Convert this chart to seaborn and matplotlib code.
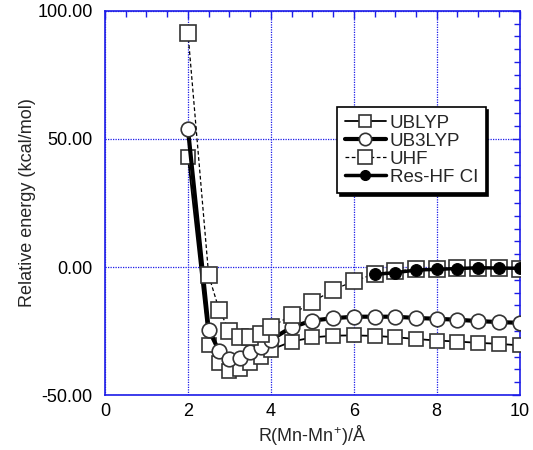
import matplotlib
matplotlib.use("Agg")
import matplotlib.pyplot as plt
import seaborn as sns
import pandas as pd
from matplotlib.ticker import MultipleLocator

# ---- data ----
r = [2.0, 2.5, 2.75, 3.0, 3.25, 3.5, 3.75, 4.0, 4.5, 5.0, 5.5, 6.0, 6.5,
     7.0, 7.5, 8.0, 8.5, 9.0, 9.5, 10.0]
ublyp = [43.0, -30.4, -37.6, -40.5, -40.0, -37.5, -35.0, -32.3, -29.1, -27.5,
         -26.8, -26.7, -26.9, -27.4, -28.1, -28.7, -29.1, -29.6, -30.0, -30.6]
ub3lyp = [54.0, -24.4, -32.8, -36.1, -35.6, -33.2, -31.2, -28.4, -23.5, -20.9,
          -20.0, -19.4, -19.4, -19.4, -19.9, -20.2, -20.6, -21.1, -21.5, -21.8]
uhf = [91.5, -3.2, -16.6, -25.0, -27.4, -27.4, -26.1, -23.6, -18.7, -13.6,
       -9.0, -5.5, -2.7, -1.6, -0.8, -0.8, -0.5, -0.3, -0.5, -0.7]
r_ci = [6.5, 7.0, 7.5, 8.0, 8.5, 9.0, 9.5, 10.0]
reshf_ci = [-2.9, -2.2, -1.2, -0.9, -0.6, -0.3, -0.4, -0.5]

x_ticks = [0, 2, 4, 6, 8, 10]
y_ticks = [-50, 0, 50, 100]
y_ticklabels = ["-50.00", "0.00", "50.00", "100.00"]

sns.set_theme(style="white")
plt.rcParams["font.family"] = ["Liberation Sans", "DejaVu Sans"]
plt.rcParams["mathtext.default"] = "regular"

fig = plt.figure(figsize=(5.33, 4.5), dpi=100)
ax = fig.add_axes([0.197, 0.122, 0.778, 0.854])

df1 = pd.DataFrame({"r": r, "E": ublyp})
df2 = pd.DataFrame({"r": r, "E": ub3lyp})
df3 = pd.DataFrame({"r": r, "E": uhf})
df4 = pd.DataFrame({"r": r_ci, "E": reshf_ci})

sns.lineplot(data=df1, x="r", y="E", ax=ax, color="black", lw=1.3,
             marker="s", markersize=10.5, markerfacecolor="white",
             markeredgecolor="#333333", markeredgewidth=1.2,
             label="UBLYP", sort=False, estimator=None, zorder=3)
sns.lineplot(data=df2, x="r", y="E", ax=ax, color="black", lw=3.0,
             marker="o", markersize=10.5, markerfacecolor="white",
             markeredgecolor="#333333", markeredgewidth=1.2,
             label="UB3LYP", sort=False, estimator=None, zorder=4)
sns.lineplot(data=df3, x="r", y="E", ax=ax, color="black", lw=0.9,
             linestyle=(0, (3, 2)),
             marker="s", markersize=11.5, markerfacecolor="white",
             markeredgecolor="#333333", markeredgewidth=1.2,
             label="UHF", sort=False, estimator=None, zorder=5)
sns.lineplot(data=df4, x="r", y="E", ax=ax, color="black", lw=2.5,
             marker="o", markersize=8.5, markerfacecolor="black",
             markeredgecolor="black",
             label="Res-HF CI", sort=False, estimator=None, zorder=6)

ax.set_xlim(0, 10)
ax.set_ylim(-50, 100)
ax.set_xticks(x_ticks)
ax.set_yticks(y_ticks)
ax.set_yticklabels(y_ticklabels)
ax.xaxis.set_minor_locator(MultipleLocator(0.5))
ax.yaxis.set_minor_locator(MultipleLocator(5))

blue = "#1c1ce8"
for s in ax.spines.values():
    s.set_color(blue)
    s.set_linewidth(1.2)
    s.set_visible(True)
ax.tick_params(which="both", direction="in", top=True, right=True,
               color=blue, labelsize=13, labelcolor="black")
ax.tick_params(which="major", length=6, width=1)
ax.tick_params(which="minor", length=4, width=1)
ax.tick_params(axis="x", pad=6)
ax.tick_params(axis="y", pad=9)
ax.grid(True, which="major", color=blue, linestyle=(0, (1, 1)), linewidth=0.9)
ax.set_axisbelow(True)

ax.set_xlabel(r"R(Mn-Mn$^{+}$)/Å", fontsize=13, labelpad=2)
ax.set_ylabel("Relative energy (kcal/mol)", fontsize=13, labelpad=1)

leg = ax.legend(loc="upper left", bbox_to_anchor=(0.56, 0.75), fontsize=13.5,
                frameon=True, fancybox=False,
                shadow={"color": "black", "alpha": 1.0},
                handlelength=2.2, handletextpad=0.2, labelspacing=0.05,
                borderpad=0.4, borderaxespad=0.0, markerscale=0.85)
leg.get_frame().set_edgecolor("black")
leg.get_frame().set_linewidth(1.2)
leg.get_frame().set_alpha(1.0)
leg.set_zorder(10)

fig.savefig("out.png", dpi=100)
